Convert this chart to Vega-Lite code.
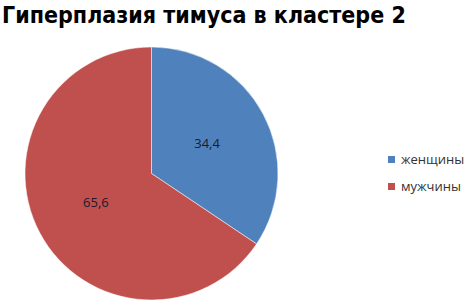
{
  "$schema": "https://vega.github.io/schema/vega-lite/v6.json",
  "autosize": "none",
  "width": 253,
  "height": 253,
  "padding": {"left": 25, "top": 47, "right": 190, "bottom": 2},
  "background": "white",
  "title": {
    "text": "Гиперплазия тимуса в кластере 2",
    "anchor": "start",
    "frame": "group",
    "dx": -23,
    "offset": 18,
    "font": "DejaVu Sans Condensed",
    "fontSize": 23,
    "fontWeight": "bold",
    "color": "#000000"
  },
  "data": {
    "values": [
      {"sex": "женщины", "value": 34.4, "label": "34,4", "ord": 1},
      {"sex": "мужчины", "value": 65.6, "label": "65,6", "ord": 2}
    ]
  },
  "encoding": {
    "theta": {"field": "value", "type": "quantitative", "stack": true},
    "order": {"field": "ord", "type": "quantitative"},
    "color": {
      "field": "sex",
      "type": "nominal",
      "scale": {"domain": ["женщины", "мужчины"], "range": ["#4F81BD", "#C0504D"]},
      "legend": {
        "title": null,
        "orient": "none",
        "legendX": 360,
        "legendY": 106,
        "symbolType": "square",
        "symbolSize": 49,
        "symbolStrokeWidth": 0,
        "labelFont": "Open Sans",
        "labelFontSize": 13,
        "labelColor": "#333333",
        "rowPadding": 13,
        "labelOffset": 3
      }
    }
  },
  "layer": [
    {"mark": {"type": "arc", "radius": 126.5, "stroke": "white", "strokeWidth": 0.5}},
    {
      "mark": {"type": "text", "radius": 63, "font": "Open Sans", "fontSize": 13},
      "encoding": {
        "text": {"field": "label"},
        "color": {"value": "#1a1a2a"}
      }
    }
  ],
  "config": {"view": {"stroke": null}}
}
